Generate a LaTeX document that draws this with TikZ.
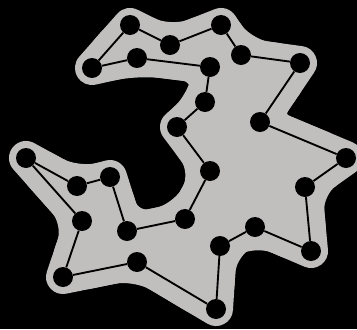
\documentclass[tikz,border=0pt]{standalone}
\usepackage{xcolor}
\definecolor{blobgray}{RGB}{193,190,190}
\begin{document}
\begin{tikzpicture}[x=0.03cm,y=-0.03cm]
        \fill[black] (0,0) rectangle (357,329);
        \useasboundingbox (0,0) rectangle (357,329);
        \foreach \n/\x/\y in {1/92/68,2/130/25,3/170/45,4/221/25,5/241/55,6/300/63,7/260/122,8/346/158,9/305/187,10/311/251,11/255/227,12/220/246,13/216/309,14/137/262,15/63/277,16/82/221,17/26/158,18/77/186,19/110/177,20/127/231,21/185/219,22/210/171,23/177/127,24/205/102,25/210/67,26/137/58}{
            \coordinate (c\n) at (\x,\y);
        }
        % the blob, once plain and once rounded to soften the inner bends
        \filldraw[blobgray,line width=1.02cm,line join=round] (c1) \foreach \n in {2,...,26}{ -- (c\n) } -- cycle;
        \filldraw[blobgray,line width=1.02cm,line join=round,rounded corners=0.75cm] (c1) \foreach \n in {2,...,26}{ -- (c\n) } -- cycle;
        \foreach \n in {1,...,26}{
            \node[circle,fill=black,minimum size=0.6cm,inner sep=0pt] (p\n) at (c\n) {};
        }
        \foreach \a/\b in {1/2,2/3,3/4,4/5,5/6,6/7,7/8,8/9,9/10,10/11,11/12,12/13,13/14,14/15,15/16,16/17,17/18,18/19,19/20,20/21,21/22,22/23,23/24,24/25,25/26,26/1}{
            \draw[line width=1.6pt] (p\a) -- (p\b);
        }
    \end{tikzpicture}
\end{document}
